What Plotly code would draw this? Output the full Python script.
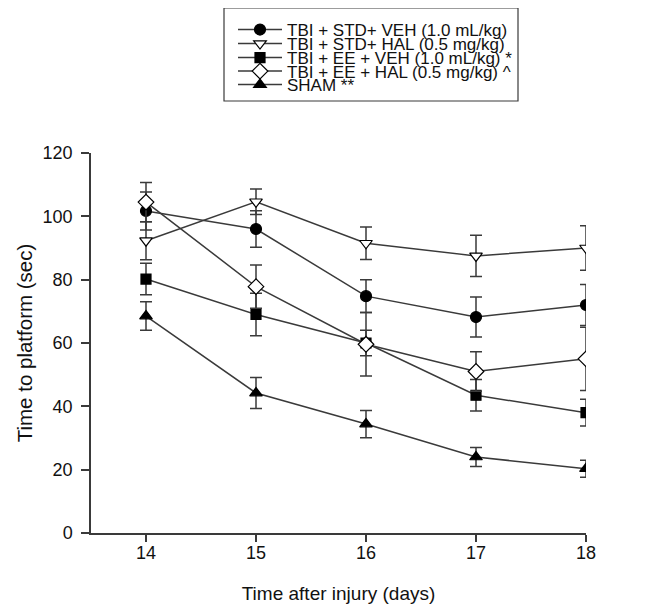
import plotly.graph_objects as go

days = [14, 15, 16, 17, 18]

names = [
    "TBI + STD+ VEH (1.0 mL/kg)",
    "TBI + STD+ HAL (0.5 mg/kg)",
    "TBI + EE + VEH (1.0 mL/kg) *",
    "TBI + EE + HAL (0.5 mg/kg) ^",
    "SHAM **",
]

std_veh = [101.7, 96.0, 74.8, 68.2, 72.0]
std_veh_err = [6.0, 5.8, 5.2, 6.3, 6.5]
std_hal = [92.3, 104.6, 91.5, 87.5, 90.0]
std_hal_err = [6.0, 4.0, 5.1, 6.5, 7.0]
ee_veh = [80.2, 69.0, 60.0, 43.5, 38.0]
ee_veh_err = [5.0, 6.7, 4.0, 5.0, 4.2]
ee_hal = [104.5, 77.8, 59.6, 51.0, 55.0]
ee_hal_err = [6.2, 6.8, 10.0, 6.2, 10.0]
sham = [68.5, 44.2, 34.4, 24.0, 20.3]
sham_err = [4.5, 4.9, 4.3, 3.0, 2.7]

series = [std_veh, std_hal, ee_veh, ee_hal, sham]
errors = [std_veh_err, std_hal_err, ee_veh_err, ee_hal_err, sham_err]
symbols = ["circle", "triangle-down", "square", "diamond", "triangle-up"]
fills = ["black", "white", "black", "white", "black"]
sizes = [11, 11, 10, 12, 11]

FONT = "Arial, Liberation Sans, sans-serif"
LINE = "#3a3a3a"

fig = go.Figure()

# page body has an 8px margin; figure is 650x600 placed at (8, 8)
OFF = 8
FW, FH = 650, 600
# plot area in screen pixels: x 91..586, y 153..533
L, R, T, B = 91, 586, 153, 533
W, H = R - L, B - T
row_px = [30, 44, 58, 71.5, 85]

for i, (vals, err) in enumerate(zip(series, errors)):
    fig.add_trace(go.Scatter(
        x=days, y=vals, name=names[i], mode="lines+markers",
        line=dict(color=LINE, width=1.5),
        marker=dict(symbol=symbols[i], size=sizes[i], color=fills[i],
                    line=dict(color="black", width=1.2)),
        error_y=dict(type="data", array=err, visible=True,
                     color=LINE, thickness=1.5, width=6),
        legend="legend" if i == 0 else f"legend{i + 1}",
    ))

leg_common = dict(
    bgcolor="rgba(0,0,0,0)", borderwidth=0,
    font=dict(family=FONT, size=17, color="#111"),
    xanchor="left", yanchor="middle", itemwidth=44,
)
legends = {}
for i in range(5):
    key = "legend" if i == 0 else f"legend{i + 1}"
    legends[key] = dict(leg_common, x=(233 - L) / W, y=(B - row_px[i]) / H)

fig.update_layout(
    width=FW, height=FH,
    margin=dict(l=L - OFF, r=FW - (R - OFF), t=T - OFF, b=FH - (B - OFF),
                pad=0, autoexpand=False),
    paper_bgcolor="white", plot_bgcolor="white",
    font=dict(family=FONT, size=18, color="#111"),
    showlegend=True,
    xaxis=dict(
        range=[13.5, 18], tickmode="array", tickvals=days,
        showline=True, linecolor=LINE, linewidth=1.5,
        ticks="outside", ticklen=7, tickwidth=1.5, tickcolor=LINE,
        showgrid=False, zeroline=False, ticklabelstandoff=-4,
        title=dict(text="Time after injury (days)", font=dict(size=19, color="#111"), standoff=24),
        tickfont=dict(size=18), automargin=False,
    ),
    yaxis=dict(
        range=[0, 120], tickmode="array", tickvals=[0, 20, 40, 60, 80, 100, 120],
        showline=True, linecolor=LINE, linewidth=1.5,
        ticks="outside", ticklen=8, tickwidth=1.5, tickcolor=LINE,
        showgrid=False, zeroline=False, ticklabelstandoff=5,
        title=dict(text="Time to platform (sec)", font=dict(size=20.5, color="#111"), standoff=4),
        tickfont=dict(size=18), automargin=False,
    ),
    shapes=[dict(
        type="rect", xref="paper", yref="paper",
        x0=(224 - L) / W, x1=(518 - L) / W,
        y0=(B - 101) / H, y1=(B - 8) / H,
        line=dict(color=LINE, width=1.2), fillcolor="rgba(0,0,0,0)",
    )],
    **legends,
)

fig.write_html("out.html")
